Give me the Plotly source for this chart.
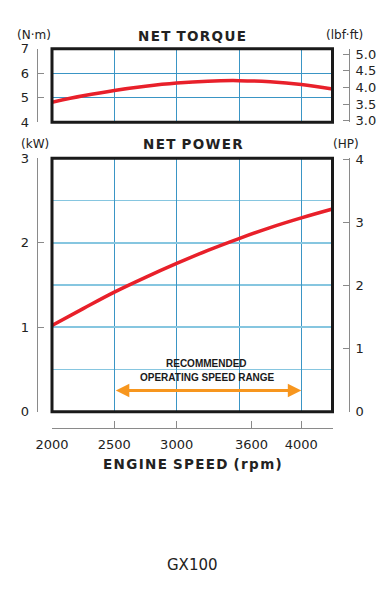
import plotly.graph_objects as go

# ---------------- data ----------------
rpm = [2000, 2250, 2500, 2750, 3000, 3250, 3500, 3750, 4000, 4250]
torque_nm = [4.82, 5.08, 5.30, 5.47, 5.60, 5.68, 5.70, 5.65, 5.54, 5.36]
power_kw = [1.02, 1.22, 1.415, 1.59, 1.755, 1.91, 2.05, 2.18, 2.295, 2.40]

grid_rpm = [2500, 3000, 3500, 4000]
x_ticks = [2000, 2500, 3000, 3600, 4000, 4250]
x_ticktext = ["2000", "2500", "3000", "3600", "4000", ""]
torque_ticks = [4, 5, 6, 7]
lbfft_ticks = [3.0, 3.5, 4.0, 4.5, 5.0]
kw_ticks = [0, 1, 2, 3]
hp_ticks = [0, 1, 2, 3, 4]
range_rpm = [2500, 4000]
range_level_kw = 0.25

NM_PER_LBFFT = 1.35582
KW_PER_HP = 0.7457

W, H = 388, 590


def px(x):
    return x / W


def py(y):
    return 1 - y / H


def spaced(s):
    return "\u200a".join(list(s))


RED = "#e8202a"
GRID_DARK = "#3a95c5"
GRID_LIGHT = "#86c6e0"
AXIS_GRAY = "#8a8a8a"
TXT = "#222222"
ORANGE = "#f7961e"
FONT = "DejaVu Sans"

fig = go.Figure()

fig.add_trace(go.Scatter(x=rpm, y=torque_nm, xaxis="x", yaxis="y", mode="lines",
                         line=dict(color=RED, width=3.5, shape="spline"), hoverinfo="skip"))
fig.add_trace(go.Scatter(x=rpm, y=power_kw, xaxis="x2", yaxis="y2", mode="lines",
                         line=dict(color=RED, width=3.5, shape="spline"), hoverinfo="skip"))
# dummy traces to bind secondary axes
for xa, ya in [("x", "y3"), ("x2", "y4"), ("x3", "y2")]:
    fig.add_trace(go.Scatter(x=[None], y=[None], xaxis=xa, yaxis=ya, mode="lines",
                             hoverinfo="skip", showlegend=False))

xdom = [px(52), px(332.5)]
tick_font = dict(family=FONT, size=13, color=TXT)

common_x = dict(domain=xdom, range=[2000, 4250], tickvals=grid_rpm, showticklabels=False,
                ticks="", showline=False, showgrid=True, gridcolor=GRID_DARK, gridwidth=1,
                zeroline=False, fixedrange=True, automargin=False)

fig.update_layout(
    width=W, height=H,
    margin=dict(l=0, r=0, t=0, b=0, pad=0, autoexpand=False),
    paper_bgcolor="white", plot_bgcolor="white",
    showlegend=False,
    xaxis=dict(anchor="y", **common_x),
    xaxis2=dict(anchor="y2", **common_x),
    xaxis3=dict(overlaying="x2", anchor="free", position=py(428.3), side="bottom",
                range=[2000, 4250], tickvals=x_ticks, ticktext=x_ticktext,
                ticks="inside", ticklen=7, tickcolor=AXIS_GRAY, tickwidth=1,
                showline=True, linecolor=AXIS_GRAY, linewidth=1, showgrid=False,
                zeroline=False, tickfont=tick_font, ticklabelstandoff=4, automargin=False),
    yaxis=dict(domain=[py(122.3), py(48.8)], range=[4, 7], anchor="free", position=px(36.7),
               tickvals=torque_ticks, ticks="inside", ticklen=6.5, tickcolor=AXIS_GRAY,
               showline=True, linecolor=AXIS_GRAY, linewidth=1, showgrid=True,
               gridcolor=GRID_DARK, gridwidth=1, zeroline=False, tickfont=tick_font,
               ticklabelstandoff=5, automargin=False),
    yaxis3=dict(overlaying="y", side="right", anchor="free", position=px(349),
                range=[4 / NM_PER_LBFFT, 7 / NM_PER_LBFFT], tickvals=lbfft_ticks,
                tickformat=".1f", ticks="inside", ticklen=6, tickcolor=AXIS_GRAY,
                showline=True, linecolor=AXIS_GRAY, linewidth=1, showgrid=False,
                zeroline=False, tickfont=tick_font, ticklabelstandoff=3, automargin=False),
    yaxis2=dict(domain=[py(411.7), py(158.3)], range=[0, 3], anchor="free", position=px(36.7),
                tickvals=kw_ticks, ticks="inside", ticklen=6.5, tickcolor=AXIS_GRAY,
                showline=True, linecolor=AXIS_GRAY, linewidth=1, showgrid=True,
                gridcolor=GRID_LIGHT, gridwidth=1.5, zeroline=False, tickfont=tick_font,
                ticklabelstandoff=5, automargin=False,
                minor=dict(dtick=0.5, showgrid=True, gridcolor=GRID_LIGHT, gridwidth=1.5, ticks="")),
    yaxis4=dict(overlaying="y2", side="right", anchor="free", position=px(349),
                range=[0, 3 / KW_PER_HP], tickvals=hp_ticks, ticks="inside", ticklen=6,
                tickcolor=AXIS_GRAY, showline=True, linecolor=AXIS_GRAY, linewidth=1,
                showgrid=False, zeroline=False, tickfont=tick_font, ticklabelstandoff=3,
                automargin=False),
)

# frames
for xr, yr in [("x domain", "y domain"), ("x2 domain", "y2 domain")]:
    fig.add_shape(type="rect", xref=xr, yref=yr, x0=0, x1=1, y0=0, y1=1,
                  line=dict(color="#1a1a1a", width=3), layer="above")

# operating range arrow
fig.add_annotation(x=range_rpm[1], y=range_level_kw, ax=range_rpm[0], ay=range_level_kw,
                   xref="x2", yref="y2", axref="x2", ayref="y2", text="",
                   showarrow=True, arrowhead=2, arrowside="end+start", arrowsize=0.9,
                   arrowwidth=3, arrowcolor=ORANGE, standoff=0, startstandoff=0)


def label(x, y, text, size=12, bold=False, family=FONT, color=TXT):
    fig.add_annotation(x=px(x), y=py(y), xref="paper", yref="paper", text=text,
                       showarrow=False, xanchor="center", yanchor="middle",
                       font=dict(family=family, size=size, color=color,
                                 weight="bold" if bold else "normal"))


label(34, 35, "(N·m)", 12)
label(344, 35, "(lbf·ft)", 12)
label(191.7, 35.5, spaced("NET") + " \u200a" + spaced("TORQUE"), 13.5, bold=True)
label(35.3, 144, "(kW)", 12)
label(346, 144, "(HP)", 12)
label(193.3, 144.5, spaced("NET") + " \u200a" + spaced("POWER"), 13.5, bold=True)
label(192, 463.5, spaced("ENGINE") + " \u200a" + spaced("SPEED") + " \u200a" + spaced("(rpm)"),
      13.5, bold=True)
label(206, 363.8, "RECOMMENDED", 10, bold=True, family="Liberation Sans", color="#1a1a1a")
label(207, 377.0, "OPERATING SPEED RANGE", 10, bold=True, family="Liberation Sans", color="#1a1a1a")
label(192, 565, "GX100", 15)

fig.write_html("out.html", config={"displayModeBar": False, "staticPlot": True},
               post_script="document.body.style.margin='0';document.body.style.overflow='hidden';")
